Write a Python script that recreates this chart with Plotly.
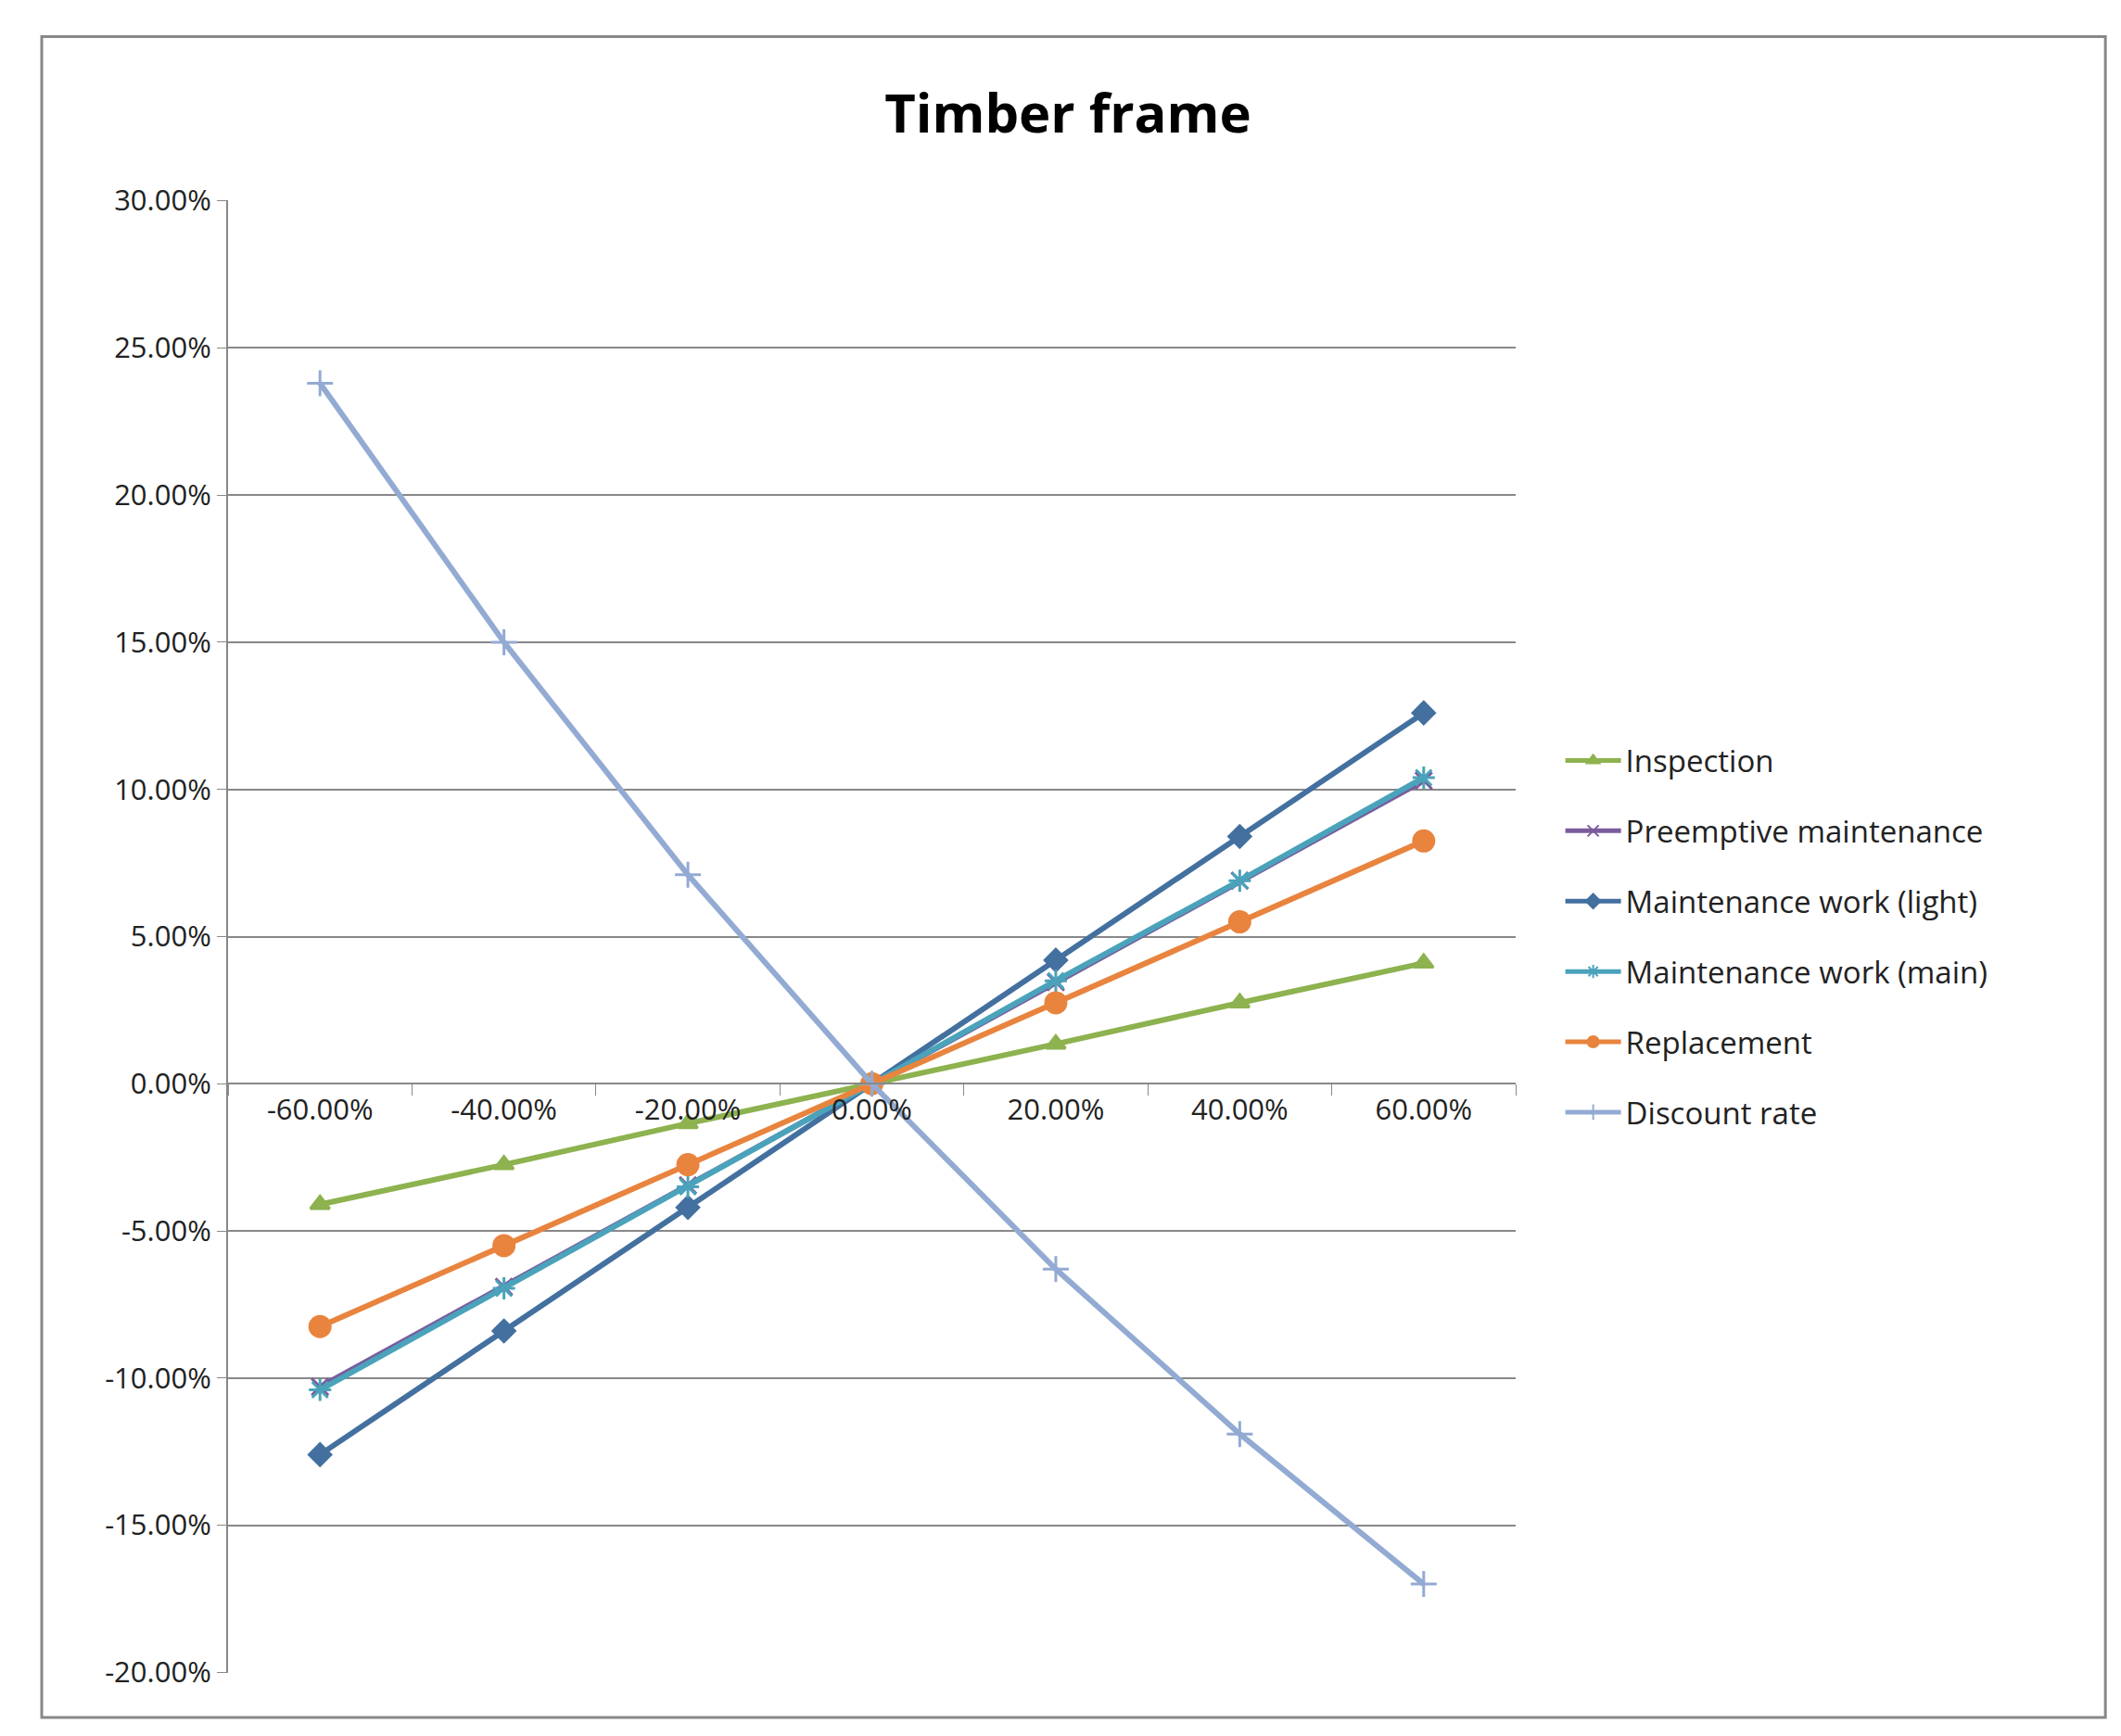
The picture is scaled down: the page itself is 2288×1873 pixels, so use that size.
import plotly.graph_objects as go

categories = ["-60.00%", "-40.00%", "-20.00%", "0.00%", "20.00%", "40.00%", "60.00%"]
inspection = [-0.041, -0.0275, -0.0135, 0.0, 0.0135, 0.0275, 0.041]
preemptive = [-0.103, -0.069, -0.0345, 0.0, 0.0345, 0.069, 0.103]
light = [-0.126, -0.084, -0.042, 0.0, 0.042, 0.084, 0.126]
main = [-0.104, -0.0695, -0.035, 0.0, 0.035, 0.069, 0.104]
replacement = [-0.0825, -0.055, -0.0275, 0.0, 0.0275, 0.055, 0.0825]
discount = [0.238, 0.150, 0.071, 0.0, -0.063, -0.119, -0.170]
y_tickvals = [-0.20, -0.15, -0.10, -0.05, 0.0, 0.05, 0.10, 0.15, 0.20, 0.25, 0.30]
y_ticktext = ["-20.00%", "-15.00%", "-10.00%", "-5.00%", "0.00%", "5.00%",
              "10.00%", "15.00%", "20.00%", "25.00%", "30.00%"]

series = [
    ("Inspection", inspection, "#8DB24F", "triangle-up", 18),
    ("Preemptive maintenance", preemptive, "#7A5C9E", "x-thin-open", 18),
    ("Maintenance work (light)", light, "#43709F", "diamond", 18),
    ("Maintenance work (main)", main, "#4AA3BB", "asterisk-open", 20),
    ("Replacement", replacement, "#E8843E", "circle", 22),
    ("Discount rate", discount, "#93ABD3", "cross-thin-open", 20),
]

fig = go.Figure()
for name, vals, col, sym, sz in series:
    fig.add_trace(go.Scatter(
        x=categories, y=vals, name=name, mode="lines+markers", legendgroup=name,
        line=dict(color=col, width=6),
        marker=dict(symbol=sym, size=sz, color=col, line=dict(color=col, width=3)),
    ))

font = "Open Sans, Liberation Sans, sans-serif"
fig.update_layout(
    width=2288, height=1873,
    margin=dict(l=238, r=661, t=208, b=76),
    paper_bgcolor="white", plot_bgcolor="white",
    title=dict(text="<b>Timber frame</b>", x=0.5, xanchor="center", xref="container",
               y=1 - 115 / 1873, yanchor="middle",
               font=dict(family=font, size=58, color="black")),
    font=dict(family=font, size=30, color="#222"),
    showlegend=True,
    legend=dict(x=1.035, y=0.5, xanchor="left", yanchor="middle",
                font=dict(size=33, color="#222"), tracegroupgap=30,
                itemsizing="constant", itemwidth=60),
    xaxis=dict(type="category", range=[-0.5, 6.5], anchor="free", position=0.4,
               showline=True, linecolor="#888", linewidth=2,
               ticks="outside", tickson="boundaries", ticklen=12, tickcolor="#888",
               showgrid=False, tickfont=dict(size=31, color="#222")),
    yaxis=dict(range=[-0.2002, 0.3002], tickvals=y_tickvals, ticktext=y_ticktext,
               showgrid=True, gridcolor="#888", gridwidth=2,
               showline=True, linecolor="#888", linewidth=2,
               ticks="outside", ticklen=10, tickcolor="#888",
               zeroline=False, tickfont=dict(size=31, color="#222")),
)
fig.add_shape(type="rect", xref="paper", yref="paper",
              x0=-0.1447, x1=1.458, y0=-0.0302, y1=1.111,
              line=dict(color="#888", width=3))
fig.write_html("out.html")
